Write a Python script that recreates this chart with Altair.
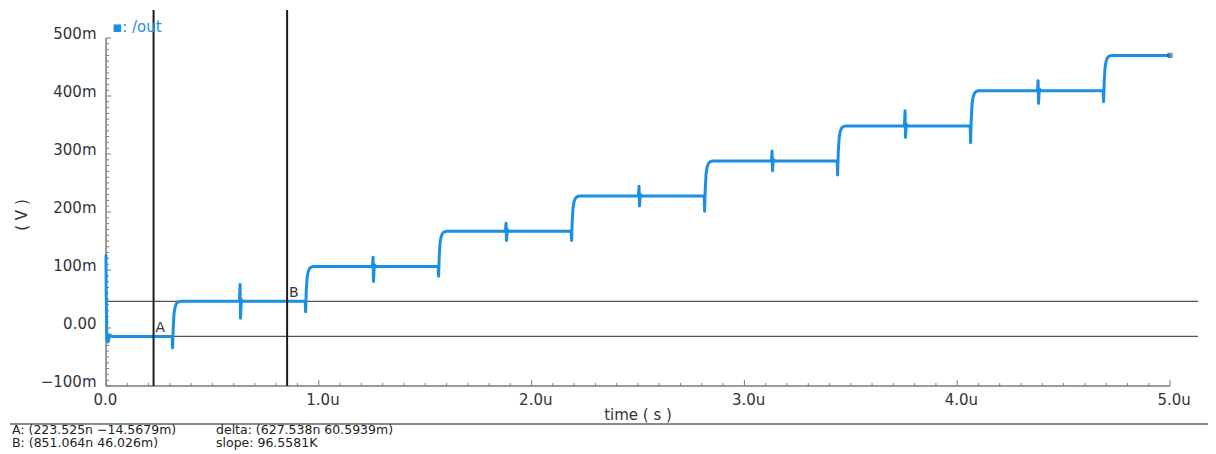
import altair as alt
import pandas as pd

# ---- data (time in µs, voltage in V) ----
start_t = [0.0, 0.001, 0.004, 0.010, 0.018, 0.030]
start_v = [0.125, 0.060, -0.020, -0.024, -0.012, -0.0146]

levels = [-0.0146, 0.0460, 0.1062, 0.1668, 0.2275, 0.2880, 0.3485, 0.4092, 0.4700]
step_times = [0.312, 0.937, 1.562, 2.187, 2.812, 3.437, 4.062, 4.687]
step_dips = [0.020, 0.018, 0.017, 0.016, 0.026, 0.024, 0.029, 0.019]

rise_dt = [0.0, 0.003, 0.007, 0.012, 0.018, 0.026, 0.038]
rise_frac = [0.0, 0.45, 0.75, 0.88, 0.95, 0.985, 1.0]

glitch_times = [0.630, 1.255, 1.880, 2.505, 3.130, 3.755, 4.380]
glitch_up = [0.029, 0.016, 0.014, 0.017, 0.017, 0.026, 0.017]
glitch_down = [0.029, 0.026, 0.016, 0.017, 0.017, 0.020, 0.022]

end_t = 5.0

cursor_names = ["A", "B"]
cursor_t = [0.223525, 0.851064]
cursor_v = [-0.0145679, 0.046026]

readout_left = ["A: (223.525n \u221214.5679m)", "B: (851.064n 46.026m)"]
readout_right = ["delta: (627.538n 60.5939m)", "slope: 96.5581K"]

x_tick_values = [0, 1, 2, 3, 4, 5]
y_tick_values = [-0.1, 0, 0.1, 0.2, 0.3, 0.4, 0.5]

# ---- build the waveform vertices ----
ts_, vs_ = list(start_t), list(start_v)
for k, ts in enumerate(step_times):
    lp, ln = levels[k], levels[k + 1]
    if k > 0:
        g = glitch_times[k - 1]
        ts_ += [g - 0.003, g, g + 0.002, g + 0.006, g + 0.012]
        vs_ += [lp, lp + glitch_up[k - 1], lp - glitch_down[k - 1], lp + 0.003, lp]
    low = lp - step_dips[k]
    ts_ += [ts - 0.001]
    vs_ += [lp]
    for dt, fr in zip(rise_dt, rise_frac):
        ts_.append(ts + 0.001 + dt)
        vs_.append(low + fr * (ln - low))
ts_.append(end_t)
vs_.append(levels[-1])
wave = pd.DataFrame({"t": ts_, "v": vs_, "i": range(len(ts_))})

cursors = pd.DataFrame({"name": cursor_names, "t": cursor_t, "v": cursor_v})

# ---- geometry ----
W, H = 1092, 376
XMAX = 5.1316
YMIN, YMAX = -0.1, 0.5483
FONT = "DejaVu Sans"
BLUE = "#1a8fe3"
GRAY = "#7d7d7d"
TXT = "#333333"

xs = alt.Scale(domain=[0, XMAX], nice=False, zero=False)
ys = alt.Scale(domain=[YMIN, YMAX], nice=False, zero=False)

x_axis = alt.Axis(
    values=x_tick_values,
    labelExpr="datum.value == 0 ? '0.0' : format(datum.value, '.1f') + 'u'",
    ticks=False, domain=False, grid=False, title=None,
    labelAlign="left", labelOffset=-13, labelPadding=6,
    labelBaseline="top", labelFlush=False, labelOverlap=False,
    labelFontSize=15, labelFont=FONT, labelColor=TXT,
)
y_axis = alt.Axis(
    values=y_tick_values,
    labelExpr="datum.value == 0 ? '0.00' : format(datum.value * 1000, '.0f') + 'm'",
    ticks=False, domain=False, grid=False, title=None,
    labelPadding=10, labelBaseline="alphabetic", labelFlush=False,
    labelOverlap=False, labelFontSize=15, labelFont=FONT, labelColor=TXT,
)


def X(f):
    return alt.X(f, scale=xs, axis=x_axis)


def Y(f):
    return alt.Y(f, scale=ys, axis=y_axis)


line = alt.Chart(wave).mark_line(color=BLUE, strokeWidth=3, strokeCap="round",
                                 strokeJoin="round").encode(
    x=X("t:Q"), y=Y("v:Q"), order="i:Q",
)

end_marker = alt.Chart(pd.DataFrame({"t": [end_t], "v": [levels[-1]]})).mark_point(
    shape="square", size=18, filled=False, color="#333", strokeWidth=1
).encode(x=X("t:Q"), y=Y("v:Q"))

# axis lines and ticks
xt = pd.DataFrame({"t": [k / 10 for k in range(51)],
                   "major": [k % 10 == 0 for k in range(51)]})
yt = pd.DataFrame({"v": [(-10 + k) / 100 for k in range(61)],
                   "major": [k % 10 == 0 for k in range(61)]})

x_dom = alt.Chart(pd.DataFrame({"t": [0.0], "b": [5.0]})).mark_rule(
    color=GRAY, strokeWidth=1.5).encode(x=X("t:Q"), x2="b:Q", y=alt.value(H))
y_dom = alt.Chart(pd.DataFrame({"v": [-0.1], "b": [0.5]})).mark_rule(
    color=GRAY, strokeWidth=1.5).encode(y=Y("v:Q"), y2="b:Q", x=alt.value(0))

x_minor = alt.Chart(xt).transform_filter("!datum.major").mark_rule(
    color=GRAY, strokeWidth=1).encode(x=X("t:Q"), y=alt.value(H), y2=alt.value(H - 3))
x_major = alt.Chart(xt).transform_filter("datum.major").mark_rule(
    color=GRAY, strokeWidth=1).encode(x=X("t:Q"), y=alt.value(H), y2=alt.value(H - 6))
y_minor = alt.Chart(yt).transform_filter("!datum.major").mark_rule(
    color=GRAY, strokeWidth=1).encode(y=Y("v:Q"), x=alt.value(0), x2=alt.value(3))
y_major = alt.Chart(yt).transform_filter("datum.major").mark_rule(
    color=GRAY, strokeWidth=1).encode(y=Y("v:Q"), x=alt.value(0), x2=alt.value(5))

# cursors
v_cur = alt.Chart(cursors).mark_rule(color="#1c1c1c", strokeWidth=2).encode(
    x=X("t:Q"), y=alt.value(0), y2=alt.value(H))
h_cur = alt.Chart(cursors).mark_rule(color="#555555", strokeWidth=1.3).encode(
    y=Y("v:Q"), x=alt.value(0), x2=alt.value(W))
cur_lbl = alt.Chart(cursors).mark_text(
    align="left", baseline="bottom", dx=2, dy=-1, fontSize=14, font=FONT, color=TXT
).encode(x=X("t:Q"), y=Y("v:Q"), text="name:N")

# titles and legend text
legend = alt.Chart(pd.DataFrame({"s": ["\u25aa: /out"]})).mark_text(
    align="left", baseline="middle", fontSize=15, font=FONT, color=BLUE
).encode(x=alt.value(6), y=alt.value(17), text="s:N")

x_title = alt.Chart(pd.DataFrame({"t": [2.5], "s": ["time ( s )"]})).mark_text(
    align="center", baseline="middle", fontSize=15, font=FONT, color=TXT
).encode(x=X("t:Q"), y=alt.value(H + 29), text="s:N")

y_title = alt.Chart(pd.DataFrame({"s": ["( V )"]})).mark_text(
    align="center", baseline="middle", angle=270, fontSize=15, font=FONT, color=TXT
).encode(x=alt.value(-84), y=alt.value(205), text="s:N")

sep = alt.Chart(pd.DataFrame({"a": [0]})).mark_rule(color="#8a8a8a", strokeWidth=2).encode(
    x=alt.value(-96), x2=alt.value(W + 12), y=alt.value(414))

row1 = pd.DataFrame({"left": [readout_left[0]], "right": [readout_right[0]]})
row2 = pd.DataFrame({"left": [readout_left[1]], "right": [readout_right[1]]})


def readout(df, field, xpix, ypix):
    return alt.Chart(df).mark_text(
        align="left", baseline="alphabetic", fontSize=12.5, font=FONT, color="#222"
    ).encode(x=alt.value(xpix), y=alt.value(ypix), text=f"{field}:N")


ro = [readout(row1, "left", -94, 423.5), readout(row1, "right", 110, 423.5),
      readout(row2, "left", -94, 436.5), readout(row2, "right", 110, 436.5)]

chart = alt.layer(
    x_dom, y_dom, x_minor, x_major, y_minor, y_major,
    h_cur, line, end_marker, v_cur, cur_lbl,
    legend, x_title, y_title, sep, *ro,
).properties(
    width=W, height=H,
    autosize=alt.AutoSizeParams(type="none"),
    padding={"left": 98, "top": 2, "right": 10, "bottom": 66},
).configure(
    background="white",
    view=alt.ViewConfig(stroke="transparent", strokeWidth=0),
)

chart.save("out.html", embed_options={"renderer": "svg", "actions": False})
